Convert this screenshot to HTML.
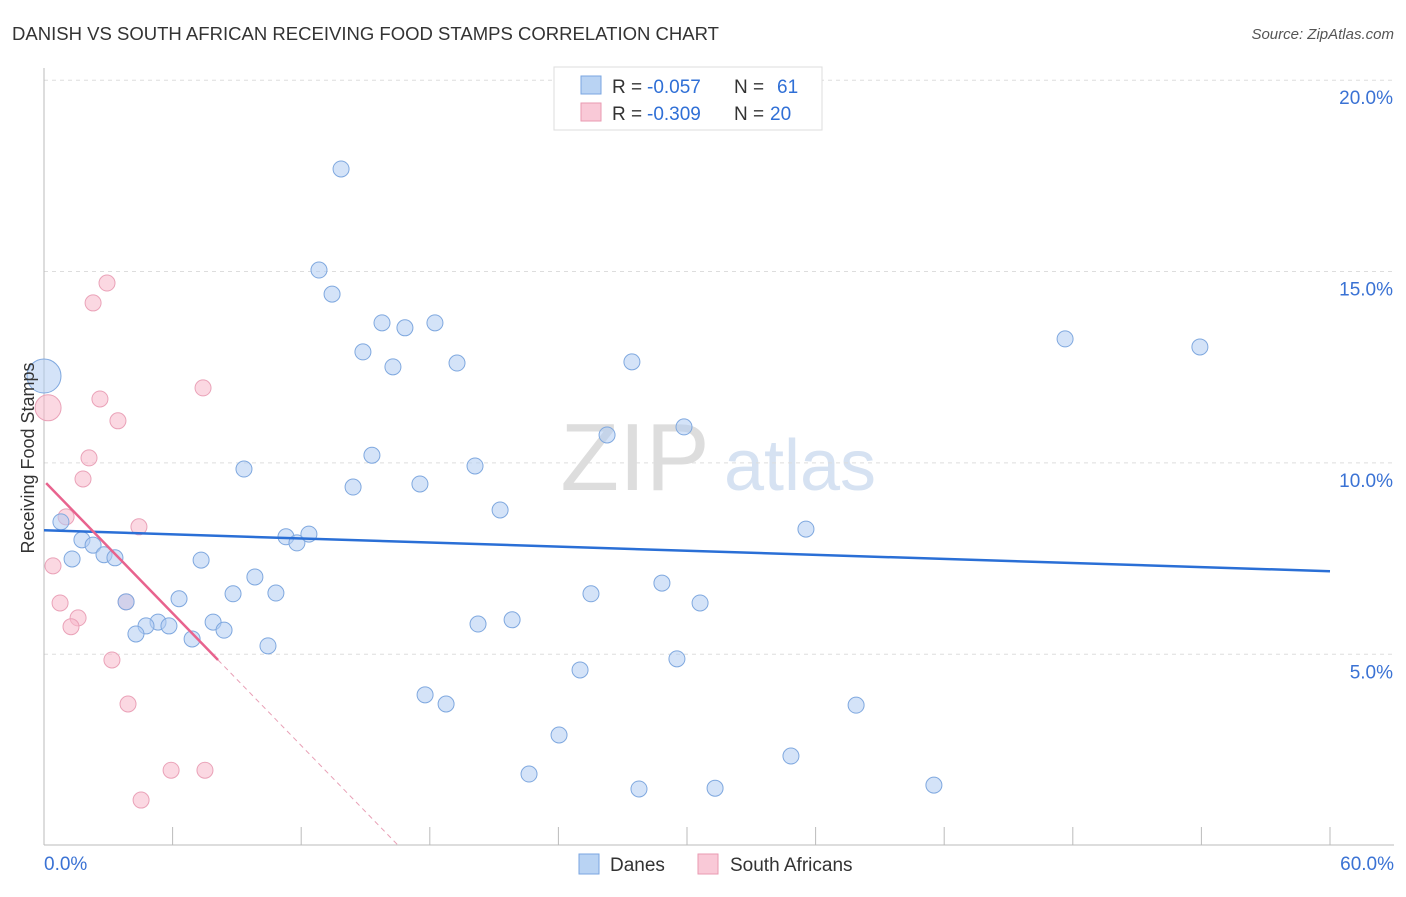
<!DOCTYPE html>
<html><head><meta charset="utf-8">
<style>
body{margin:0;background:#fff;font-family:"Liberation Sans",sans-serif;}
svg text{font-family:"Liberation Sans",sans-serif;}
</style></head>
<body>
<svg id="chart" width="1406" height="892">
<text x="12" y="40" font-size="18" fill="#333" textLength="707" lengthAdjust="spacingAndGlyphs">DANISH VS SOUTH AFRICAN RECEIVING FOOD STAMPS CORRELATION CHART</text>
<text x="1394" y="39" font-size="15" fill="#555" font-style="italic" text-anchor="end">Source: ZipAtlas.com</text>
<text x="635" y="490" font-size="96" fill="#ddd" font-family="Liberation Serif" text-anchor="middle">ZIP</text>
<text x="800" y="490" font-size="72" fill="#d6e2f2" text-anchor="middle">atlas</text>
<g id="grid"></g>
<g id="axes"></g>
<g id="marks"></g>
<text transform="translate(34,458) rotate(-90)" font-size="18" fill="#333" text-anchor="middle">Receiving Food Stamps</text>
<g>
<rect x="554" y="67" width="268" height="63" fill="#fff" stroke="#ddd"/>
<rect x="581" y="76" width="20" height="18" fill="#b9d3f3" stroke="#7aa6e0"/>
<rect x="581" y="103" width="20" height="18" fill="#f9c9d7" stroke="#e99ab2"/>
<text x="612" y="93" font-size="19" fill="#333">R =</text>
<text x="647" y="93" font-size="19" fill="#2f6fd6">-0.057</text>
<text x="734" y="93" font-size="19" fill="#333">N =</text>
<text x="777" y="93" font-size="19" fill="#2f6fd6">61</text>
<text x="612" y="120" font-size="19" fill="#333">R =</text>
<text x="647" y="120" font-size="19" fill="#2f6fd6">-0.309</text>
<text x="734" y="120" font-size="19" fill="#333">N =</text>
<text x="770" y="120" font-size="19" fill="#2f6fd6">20</text>
</g>
<g>
<rect x="579" y="854" width="20" height="20" fill="#b9d3f3" stroke="#7aa6e0"/>
<text x="610" y="871" font-size="19" fill="#333">Danes</text>
<rect x="698" y="854" width="20" height="20" fill="#f9c9d7" stroke="#e99ab2"/>
<text x="730" y="871" font-size="19" fill="#333">South Africans</text>
</g>
</svg>
<script>
const yTicks=[5,10,15,20];
const yTickLabels=["5.0%","10.0%","15.0%","20.0%"];
const xTickLabels=["0.0%","60.0%"];
const danesX=[13.86,12.83,13.44,15.77,16.84,18.24,14.88,16.28,19.27,27.43,47.64,53.93,0,26.27,29.86,15.30,20.11,9.33,14.42,17.54,21.28,35.55,0.79,1.77,2.29,1.31,2.80,3.31,11.29,11.80,12.36,7.33,9.84,28.83,8.82,10.82,25.52,6.30,3.83,30.61,7.89,8.40,5.32,4.76,5.83,4.29,6.91,10.45,20.25,21.84,29.53,25.01,17.78,18.76,37.89,24.03,34.85,22.63,27.76,31.31,41.52];
const danesY=[17.68,15.04,14.41,13.66,13.53,13.66,12.90,12.51,12.61,12.64,13.24,13.03,12.27,10.73,10.94,10.20,9.92,9.84,9.37,9.45,8.77,8.27,8.46,7.99,7.85,7.49,7.60,7.52,8.07,7.91,8.14,7.46,7.02,6.86,6.58,6.60,6.58,6.45,6.37,6.34,5.84,5.63,5.84,5.74,5.74,5.53,5.40,5.22,5.79,5.90,4.88,4.59,3.94,3.70,3.67,2.89,2.34,1.87,1.48,1.50,1.58];
const saX=[2.94,2.29,7.42,2.61,3.45,0.19,2.10,1.82,1.03,4.43,0.42,0.75,1.59,1.26,3.83,3.17,3.92,5.93,7.51,4.53];
const saY=[14.70,14.18,11.96,11.67,11.10,11.44,10.13,9.58,8.59,8.33,7.31,6.34,5.95,5.72,6.37,4.85,3.70,1.97,1.97,1.19];
const danesTrend=[8.24,7.17];
const saTrend=[9.53,4.85,8.12];
const NS="http://www.w3.org/2000/svg";
const X=v=>44+v*1286/60, Y=v=>845.6-v*38.27;
function mk(t,a,p){const e=document.createElementNS(NS,t);for(const k in a)e.setAttribute(k,a[k]);p.appendChild(e);return e;}
const grid=document.getElementById('grid'),axes=document.getElementById('axes'),marks=document.getElementById('marks');
yTicks.forEach((v,i)=>{
 const l=mk('line',{x1:44,x2:1394,y1:Y(v),y2:Y(v),stroke:'#ddd','stroke-dasharray':'4,4'},grid);
 
 
 const t=mk('text',{x:1393,y:Y(v)+24,'font-size':19,fill:'#3a72d4','text-anchor':'end'},axes);
 t.textContent=yTickLabels[i];
 
 
});
const ax=mk('line',{x1:44,x2:1394,y1:845,y2:845,stroke:'#bbb'},axes);


const ay=mk('line',{x1:44,x2:44,y1:68,y2:845,stroke:'#bbb'},axes);


for(let i=1;i<=10;i++){const xx=44+i*128.6;mk('line',{x1:xx,x2:xx,y1:827,y2:845,stroke:'#bbb'},axes);}
[[0,'start',44],[60,'end',1394]].forEach((d,i)=>{
 const t=mk('text',{x:d[2],y:870,'font-size':19,fill:'#3a72d4','text-anchor':d[1]},axes);
 t.textContent=xTickLabels[i];
 
 
});
saX.forEach((x,i)=>{
 const c=mk('circle',{cx:X(x),cy:Y(saY[i]),r:i==5?13:8,fill:'rgba(247,184,203,0.55)',stroke:'#eaa2b8','stroke-width':1},marks);
 
 
});
danesX.forEach((x,i)=>{
 const c=mk('circle',{cx:X(x),cy:Y(danesY[i]),r:i==12?17:8,fill:'rgba(176,204,242,0.55)',stroke:'#7fa8df','stroke-width':1},marks);
 
 
});
const bt=mk('line',{x1:X(0),y1:Y(danesTrend[0]),x2:X(60),y2:Y(danesTrend[1]),stroke:'#2a6fd6','stroke-width':2.5},marks);


const slope=(saTrend[1]-saTrend[0])/saTrend[2];
const x0=-saTrend[0]/slope;
const pt=mk('line',{x1:X(0.1),y1:Y(saTrend[0]+slope*0.1),x2:X(saTrend[2]),y2:Y(saTrend[1]),stroke:'#e8638e','stroke-width':2.5},marks);


const pd=mk('line',{x1:X(saTrend[2]),y1:Y(saTrend[1]),x2:X(x0),y2:Y(0),stroke:'#e8a0b6','stroke-width':1,'stroke-dasharray':'5,4'},marks);


</script>
</body></html>
